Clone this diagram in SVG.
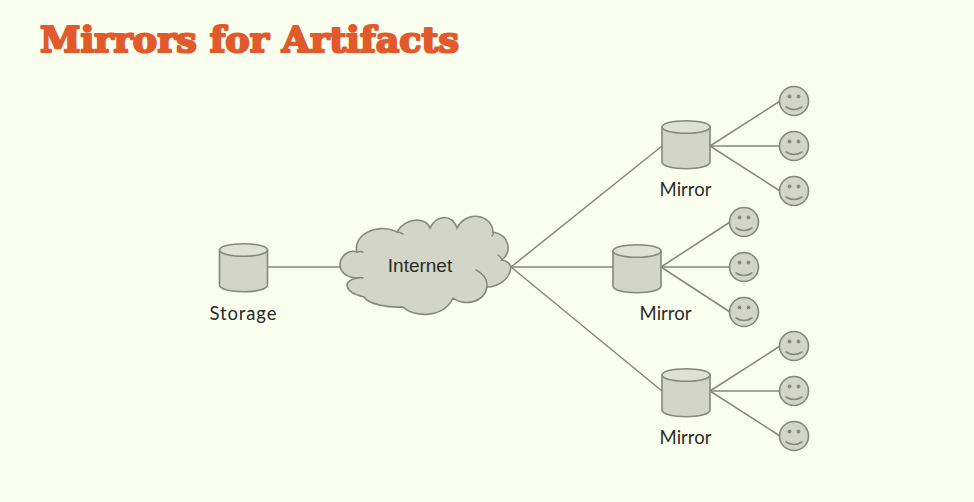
<svg xmlns="http://www.w3.org/2000/svg" xmlns:xlink="http://www.w3.org/1999/xlink" width="974" height="502" viewBox="0 0 974 502">
<style>
.s{fill:#d3d6c6;stroke:#85887a;stroke-width:1.6}
.t{fill:#dfe2d3;stroke:#85887a;stroke-width:1.6}
.e{fill:#85887a}
.m{fill:none;stroke:#85887a;stroke-width:1.5;stroke-linecap:round}
#connectors line{stroke:#85887a;stroke-width:1.5;fill:none}
.l{font-family:"Lato","Liberation Sans",sans-serif;font-size:18.5px;fill:#2b2b28;text-anchor:middle}
.title{font-family:"DejaVu Serif",serif;font-weight:bold;font-size:36px;fill:#e2592b;stroke:#e2592b;stroke-width:2.2;stroke-linejoin:round}
</style>
<defs>
<g id="cyl"><path class="s" d="M-24 0V35C-24 44 24 44 24 35V0Z"/><ellipse class="t" cx="0" cy="0" rx="24" ry="6.3"/></g>
<g id="smile"><circle class="s" r="14.5"/><circle class="e" cx="-4.5" cy="-4.5" r="1.9"/><circle class="e" cx="4.5" cy="-4.5" r="1.9"/><path class="m" d="M-8 6Q0 11 8 6"/></g>
</defs>
<rect width="974" height="502" fill="#fafeee"/>
<text class="title" x="40" y="52" textLength="419" lengthAdjust="spacingAndGlyphs">Mirrors for Artifacts</text>
<g id="connectors">
<line x1="268" y1="267" x2="342" y2="267"/>
<line x1="511" y1="267" x2="662" y2="146"/>
<line x1="511" y1="267" x2="613" y2="267"/>
<line x1="511" y1="267" x2="662" y2="391"/>
<line x1="710" y1="146" x2="780" y2="101"/>
<line x1="710" y1="146" x2="780" y2="146"/>
<line x1="710" y1="146" x2="780" y2="191"/>
<line x1="661" y1="267" x2="730" y2="222"/>
<line x1="661" y1="267" x2="730" y2="267"/>
<line x1="661" y1="267" x2="730" y2="312"/>
<line x1="710" y1="391" x2="780" y2="346"/>
<line x1="710" y1="391" x2="780" y2="391"/>
<line x1="710" y1="391" x2="780" y2="436"/>
</g>
<g id="storage"><use xlink:href="#cyl" href="#cyl" x="243.5" y="250"/><text class="l" x="243" y="320" textLength="67">Storage</text></g>
<g id="internet">
<path class="s" d="M340 265C340 256 349 249 357 252C352 235 378 222 397 232C405 218 425 216 430 228C437 214 452 214 457 228C466 210 492 214 493 232C510 235 512 252 502 260C507 261 510 264 511 267C510 280 497 287 487 287C484 304 462 306 453 298C444 318 414 318 403 307C388 308 368 304 364 297C343 292 342 280 358 278C347 278 340 272 340 265Z"/>
<path class="m" d="M357 252Q360 251 363 252M397 232Q400 232 403 234M358 278Q361 277 363 278M493 232Q494 234 492 236M476 270Q488 276 487 287M502 260Q501 257 498 255"/>
<text class="l" x="420" y="272" style="font-family:'Liberation Sans',sans-serif;font-size:19px">Internet</text>
</g>
<g id="mirror1"><use xlink:href="#cyl" href="#cyl" x="686" y="127"/><text class="l" x="685.5" y="196">Mirror</text></g>
<g id="mirror2"><use xlink:href="#cyl" href="#cyl" x="637" y="251"/><text class="l" x="665.5" y="320">Mirror</text></g>
<g id="mirror3"><use xlink:href="#cyl" href="#cyl" x="686" y="375"/><text class="l" x="685.5" y="444">Mirror</text></g>
<g id="user1"><use xlink:href="#smile" href="#smile" x="794" y="101"/></g>
<g id="user2"><use xlink:href="#smile" href="#smile" x="794" y="146"/></g>
<g id="user3"><use xlink:href="#smile" href="#smile" x="794" y="191"/></g>
<g id="user4"><use xlink:href="#smile" href="#smile" x="744" y="222"/></g>
<g id="user5"><use xlink:href="#smile" href="#smile" x="744" y="267"/></g>
<g id="user6"><use xlink:href="#smile" href="#smile" x="744" y="312"/></g>
<g id="user7"><use xlink:href="#smile" href="#smile" x="794" y="346"/></g>
<g id="user8"><use xlink:href="#smile" href="#smile" x="794" y="391"/></g>
<g id="user9"><use xlink:href="#smile" href="#smile" x="794" y="436"/></g>
</svg>
